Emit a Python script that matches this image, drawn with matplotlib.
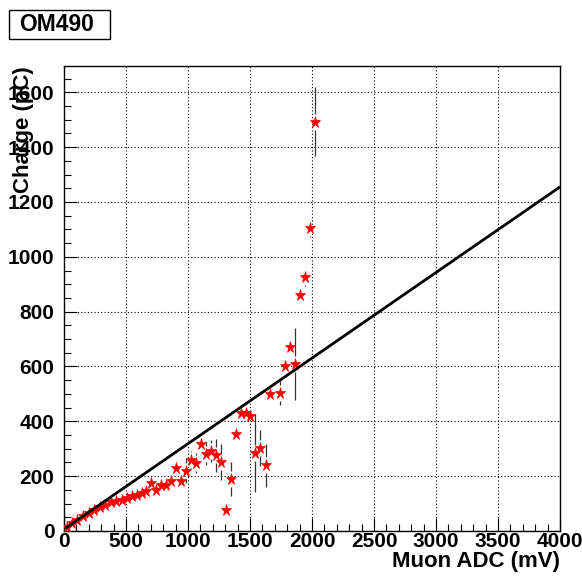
import numpy as np
import matplotlib
matplotlib.use("Agg")
import matplotlib.pyplot as plt
from matplotlib.patches import Rectangle
from matplotlib.ticker import MultipleLocator

# Measured muon ADC amplitude (mV), integrated charge (pC) and charge error (pC)
adc = [25, 65, 108, 157, 200, 243, 289, 334, 380, 423,
       466, 506, 549, 587, 626, 663, 703, 741, 780, 822,
       863, 902, 944, 984, 1024, 1065, 1105, 1145, 1186, 1222,
       1263, 1307, 1347, 1385, 1427, 1464, 1504, 1543, 1583, 1626,
       1663, 1744, 1782, 1824, 1862, 1903, 1943, 1980, 2026]
charge = [15, 30, 40, 56, 66, 76, 87, 96, 104, 110,
          113, 119, 127, 130, 138, 147, 174, 151, 167, 169,
          183, 228, 183, 220, 259, 249, 317, 281, 291, 276,
          252, 76, 189, 353, 429, 431, 419, 286, 303, 239,
          498, 504, 602, 672, 609, 860, 925, 1104, 1493]
charge_err = [3, 3, 3, 3, 4, 4, 4, 5, 5, 5,
              5, 6, 6, 6, 6, 7, 8, 8, 8, 9,
              10, 12, 12, 45, 33, 36, 20, 42, 40, 60,
              65, 20, 63, 20, 18, 18, 20, 142, 67, 80,
              20, 44, 25, 25, 131, 25, 30, 30, 125]

# Linear calibration line
fit_x = [12, 4000]
fit_y = [10, 1255]

title = "OM490"
x_title = "Muon ADC (mV)"
y_title = "Charge (pC)"

plt.rcParams["font.family"] = ["Liberation Sans", "DejaVu Sans"]
plt.rcParams["font.weight"] = "bold"

W, H = 582, 579
fig = plt.figure(figsize=(W / 100, H / 100), dpi=100)
ax = fig.add_axes([64 / W, 48 / H, 496 / W, 465 / H])

ax.set_xlim(0, 4000)
ax.set_ylim(0, 1696)

ax.xaxis.set_major_locator(MultipleLocator(500))
ax.xaxis.set_minor_locator(MultipleLocator(100))
ax.yaxis.set_major_locator(MultipleLocator(200))
ax.yaxis.set_minor_locator(MultipleLocator(50))

ax.tick_params(which="both", direction="in", top=False, right=False,
               width=0.8, colors="black")
ax.tick_params(which="major", length=9.5)
ax.tick_params(which="minor", length=4.8)
ax.tick_params(axis="x", which="major", labelsize=15, pad=1.0)
ax.tick_params(axis="y", which="major", labelsize=15, pad=7)
for lab in ax.get_xticklabels() + ax.get_yticklabels():
    lab.set_fontweight("bold")

for sp in ax.spines.values():
    sp.set_linewidth(1.0)

ax.grid(which="major", color="black", linestyle=(0, (1, 2)), linewidth=0.8)
ax.set_axisbelow(True)

# Error bars with a gap around each marker
ax_h_px = ax.get_position().height * fig.get_figheight() * fig.dpi
gap = 8 * (ax.get_ylim()[1] - ax.get_ylim()[0]) / ax_h_px
xs, lo, hi = [], [], []
for x, y, e in zip(adc, charge, charge_err):
    if e > gap:
        xs += [x, x]
        lo += [y + gap, y - e]
        hi += [y + e, y - gap]
ax.vlines(xs, lo, hi, colors="#333333", linewidth=0.9, zorder=3)

ax.plot(adc, charge, linestyle="none", marker="*", markersize=8.2,
        color="red", markeredgecolor="red", markeredgewidth=0.5, zorder=4)

ax.plot(fit_x, fit_y, color="black", linewidth=2.0, zorder=5,
        solid_capstyle="butt")

ax.set_xlabel(x_title, fontsize=16, fontweight="bold", loc="right")
ax.xaxis.set_label_coords(1.0, -20 / 465)
ax.set_ylabel(y_title, fontsize=16, fontweight="bold", loc="top")
ax.yaxis.set_label_coords(-30 / 496, 1.0)

# Title box
fig.patches.append(Rectangle((9 / W, 1 - 39 / H), 101 / W, 29 / H,
                             transform=fig.transFigure, facecolor="white",
                             edgecolor="black", linewidth=1.0))
fig.text(57 / W, 1 - 30.7 / H, title, fontsize=16.5, fontweight="bold",
         ha="center", va="baseline")

fig.savefig("out.png", dpi=100)
